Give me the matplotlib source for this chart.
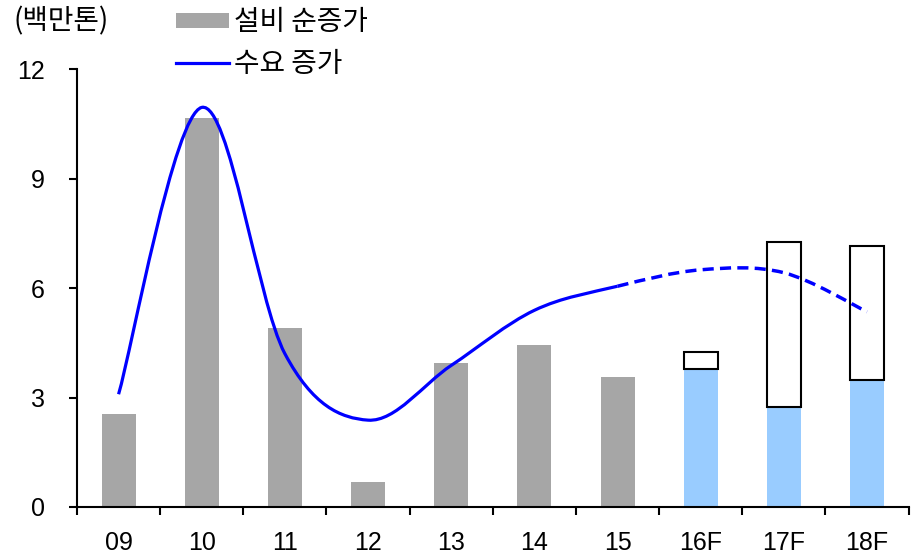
import numpy as np
import matplotlib.pyplot as plt
from matplotlib.path import Path
from matplotlib.patches import PathPatch, Patch
from matplotlib.lines import Line2D

plt.rcParams['font.family'] = ['Liberation Sans', 'Noto Sans CJK KR', 'DejaVu Sans']

# categories (years, F = forecast)
years = ['09', '10', '11', '12', '13', '14', '15', '16F', '17F', '18F']

# net capacity additions, actual (million tons)
capa_actual = [2.54, 10.65, 4.9, 0.68, 3.94, 4.43, 3.56]
# forecast range: low end (blue) and high end (box top)
capa_fc_low = [3.77, 2.73, 3.48]
capa_fc_high = [4.25, 7.25, 7.16]

# demand growth
demand = [3.09, 10.95, 4.2, 2.38, 3.88, 5.39, 6.05, 6.5, 6.42, 5.35]

n_act = len(capa_actual)
x = np.arange(len(years))

fig = plt.figure(figsize=(9.22, 5.55), dpi=100)
ax = fig.add_axes([0.0835, 0.0865, 0.902, 0.789])

bw = 0.41
ax.bar(x[:n_act], capa_actual, width=bw, color='#a6a6a6', zorder=2)
ax.bar(x[n_act:], capa_fc_low, width=bw, color='#99ccff', zorder=2)
ax.bar(x[n_act:], np.array(capa_fc_high) - np.array(capa_fc_low), bottom=capa_fc_low,
       width=bw, facecolor='white', edgecolor='black', linewidth=1.5, zorder=2)


# smoothed line: bezier control points from neighbouring points (excel style)
def bezier_verts(xs, ys):
    pts = np.column_stack([xs, ys]).astype(float)
    n = len(pts)
    verts = [pts[0]]
    for i in range(n - 1):
        p0 = pts[i - 1] if i > 0 else pts[i]
        p1 = pts[i]
        p2 = pts[i + 1]
        p3 = pts[i + 2] if i + 2 < n else pts[i + 1]
        c1 = p1 + (p2 - p0) / 6
        c2 = p2 - (p3 - p1) / 6
        verts += [c1, c2, p2]
    return np.array(verts)


verts = bezier_verts(x, demand)
split = 3 * (n_act - 1)
solid = verts[:split + 1]
dashed = verts[split:]
for seg, ls, lw in [(solid, '-', 2.3), (dashed, (0, (3.2, 1.8)), 2.5)]:
    codes = [Path.MOVETO] + [Path.CURVE4] * (len(seg) - 1)
    ax.add_patch(PathPatch(Path(seg, codes), facecolor='none', edgecolor='#0000ff',
                           linewidth=lw, linestyle=ls, capstyle='butt', zorder=3))

ax.set_xlim(-0.5, len(years) - 0.5)
ax.set_ylim(0, 12)
ax.set_yticks([0, 3, 6, 9, 12])
ax.tick_params(axis='y', direction='out', length=6, width=1.5, pad=17, labelsize=18)

ax.set_xticks(np.arange(-0.5, len(years)), labels=[''] * (len(years) + 1))
ax.set_xticks(x, labels=years, minor=True)
ax.tick_params(axis='x', which='major', direction='out', length=6, width=1.5)
ax.tick_params(axis='x', which='minor', length=0, pad=17, labelsize=18)

for s in ['top', 'right']:
    ax.spines[s].set_visible(False)
for s in ['left', 'bottom']:
    ax.spines[s].set_linewidth(1.5)

kr = ['Noto Sans CJK KR', 'DejaVu Sans']
fig.text(0.015, 0.961, '(백만톤)', fontsize=20, va='center', ha='left', family=kr)

handles = [Patch(facecolor='#a6a6a6'), Line2D([], [], color='#0000ff', lw=2.3)]
fig.legend(handles, ['설비 순증가', '수요 증가'], loc='upper left',
           bbox_to_anchor=(0.191, 0.987), frameon=False, borderpad=0, borderaxespad=0,
           handlelength=1.9, handleheight=0.43, handletextpad=0.2, labelspacing=0.42,
           prop={'family': kr, 'size': 20})

fig.savefig('out.png', dpi=100)
